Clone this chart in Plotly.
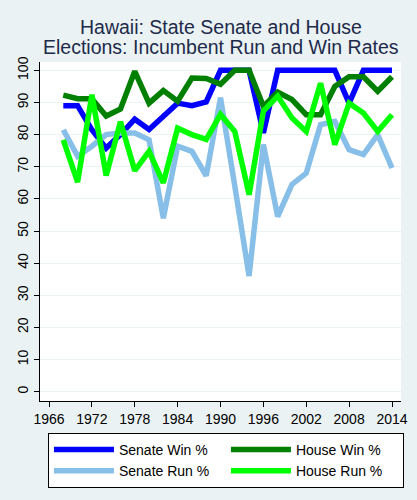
import plotly.graph_objects as go

# election years and incumbent rates (%)
years = [1968, 1970, 1972, 1974, 1976, 1978, 1980, 1982, 1984, 1986, 1988, 1990,
         1992, 1994, 1996, 1998, 2000, 2002, 2004, 2006, 2008, 2010, 2012, 2014]

senate_win = [89, 89, 81.5, 75.8, 80, 84.8, 81.6, 85.6, 89.8, 89, 90.2, 100,
              100, 100, 80.5, 100, 100, 100, 100, 100, 89.8, 100, 100, 100]
house_win = [92.3, 91.2, 91.2, 85.8, 88, 99.7, 89.8, 93.7, 90.4, 97.6, 97.5, 95.7,
             100, 100, 88.8, 93.2, 90.9, 86.2, 86.2, 95, 98, 98, 93.5, 98]
senate_run = [81.5, 73.3, 76.4, 80, 80.5, 80.5, 78.4, 54, 76.4, 74.8, 67.2, 91.5,
              64, 36, 76.9, 54.5, 64.5, 68, 83.1, 84.1, 75.3, 73.8, 80, 69.6]
house_run = [78.4, 65.2, 92.4, 67.3, 84, 68.8, 74.8, 65, 82, 80, 78.5, 86.3,
             81, 61.3, 87.3, 92, 85.2, 81, 96, 76.9, 89.8, 86.7, 81, 86.2]

x_ticks = [1966, 1972, 1978, 1984, 1990, 1996, 2002, 2008, 2014]
y_ticks = [0, 10, 20, 30, 40, 50, 60, 70, 80, 90, 100]

title_lines = ["Hawaii: State Senate and House",
               "Elections: Incumbent Run and Win Rates"]

series = [
    ("Senate Win %", senate_win, "#0000ff"),
    ("House Win %", house_win, "#007f00"),
    ("Senate Run %", senate_run, "#87bfe8"),
    ("House Run %", house_run, "#00ff00"),
]

fig = go.Figure()
for name, vals, col in series:
    fig.add_trace(go.Scatter(x=years, y=vals, name=name, mode="lines",
                             line=dict(color=col, width=5.5)))

# two-line title as separate annotations (tighter line spacing than title)
for txt, ypos in zip(title_lines, [1.103, 1.044]):
    fig.add_annotation(text=txt, x=0.5, y=ypos, xref="paper", yref="paper",
                       xanchor="center", yanchor="middle", showarrow=False,
                       font=dict(size=19.5, color="#1e2a4a"))

bg = "#eaf2f3"
fig.update_layout(
    width=417, height=500,
    paper_bgcolor=bg, plot_bgcolor="white",
    margin=dict(l=40, r=16, t=62, b=99, autoexpand=False),
    font=dict(family="Liberation Sans, Arial, sans-serif", color="#000000"),
    showlegend=True,
    legend=dict(orientation="h", x=0.022, xanchor="left", y=-0.094, yanchor="top",
                bgcolor="white", bordercolor="black", borderwidth=1,
                font=dict(size=14), itemwidth=60,
                entrywidth=102, entrywidthmode="pixels",
                traceorder="normal"),
)
fig.update_xaxes(range=[1964.74, 2015.26], tickvals=x_ticks, ticks="outside",
                 ticklen=5, tickcolor="black", showline=True, linecolor="black",
                 linewidth=1, showgrid=False, zeroline=False,
                 tickfont=dict(size=14))
fig.update_yaxes(range=[-2.9, 102.6], tickvals=y_ticks, ticks="outside",
                 ticklen=5, tickcolor="black", showline=True, linecolor="black",
                 linewidth=1, showgrid=True, gridcolor=bg, gridwidth=1,
                 zeroline=False, tickangle=-90, tickfont=dict(size=14))

# drop the page's default body margin so the figure sits at the window corner
fig.write_html("out.html", config={"displayModeBar": False},
               post_script="document.body.style.margin='0';")
